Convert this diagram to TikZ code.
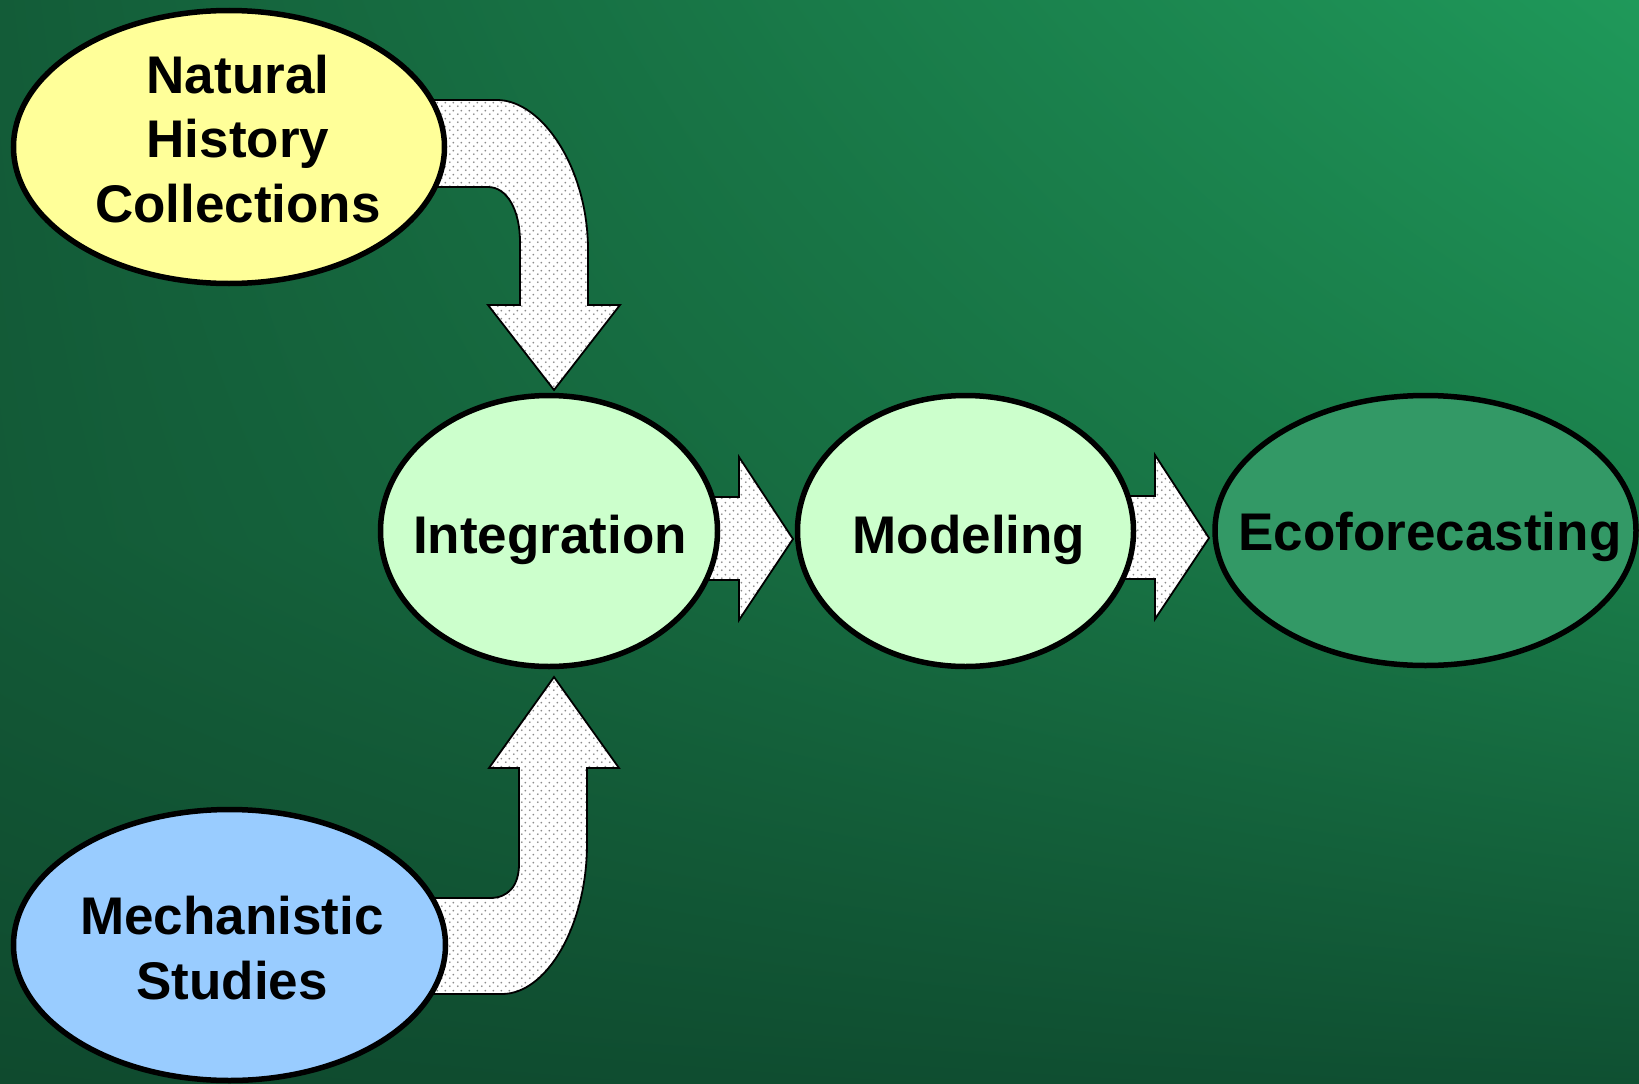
\documentclass[tikz,border=0pt]{standalone}
\usepackage{fontspec}
\setmainfont{Liberation Sans}
\usetikzlibrary{shapes.geometric,patterns,calc,shadings}
\pgfdeclarepatternformonly{mydots}{\pgfqpoint{0pt}{0pt}}{\pgfqpoint{8pt}{8pt}}{\pgfqpoint{8pt}{8pt}}{%
  \pgfpathcircle{\pgfqpoint{2pt}{2pt}}{1.1pt}%
  \pgfpathcircle{\pgfqpoint{6pt}{6pt}}{1.1pt}%
  \pgfusepath{fill}}
\definecolor{bgUL}{HTML}{135C38}
\definecolor{bgUR}{HTML}{1F995A}
\definecolor{bgML}{HTML}{135A37}
\definecolor{bgMR}{HTML}{1A7E4A}
\definecolor{bgLL}{HTML}{0F4A2E}
\definecolor{bgLR}{HTML}{0F5032}
\definecolor{nhyellow}{HTML}{FFFF99}
\definecolor{msblue}{HTML}{99CCFF}
\definecolor{palegreen}{HTML}{CCFFCC}
\definecolor{ecogreen}{HTML}{339966}
\tikzset{
  bubble/.style={ellipse, draw=black, line width=5.5pt, inner sep=0pt},
  lbl/.style={font=\fontsize{53}{64.5}\selectfont\bfseries, text=black, inner sep=0pt, align=center},
  blockarrow/.style={draw=black, line width=1.8pt, line join=miter, preaction={fill=white}, pattern=mydots, pattern color=gray!90}
}
\begin{document}
\begin{tikzpicture}[x=1pt,y=-1pt]
\useasboundingbox (0,0) rectangle (1639,1084);
% background
\shade[upper left=bgUL, upper right=bgUR, lower left=bgML, lower right=bgMR] (0,0) rectangle (1639,543);
\shade[upper left=bgML, upper right=bgMR, lower left=bgLL, lower right=bgLR] (0,541) rectangle (1639,1084);

% block arrows (drawn under the ellipses)
\draw[blockarrow] (430,100) -- (497,100) .. controls (542,100) and (588,168) .. (588,250)
  -- (588,305) -- (620,305) -- (554,390) -- (488,305) -- (520,305) -- (520,242)
  .. controls (520,210) and (507,187) .. (488,187) -- (430,187) -- cycle;
\draw[blockarrow] (430,994) -- (502,994) .. controls (547,994) and (587,925) .. (587,844)
  -- (587,768) -- (619,768) -- (554,677) -- (489,768) -- (519,768) -- (519,864)
  .. controls (519,886) and (508,898) .. (490,898) -- (430,898) -- cycle;
\draw[blockarrow] (700,497) -- (739,497) -- (739,457) -- (793,539) -- (739,620) -- (739,580) -- (700,580) -- cycle;
\draw[blockarrow] (1115,496) -- (1155,496) -- (1155,455) -- (1209,538) -- (1155,619) -- (1155,579) -- (1115,579) -- cycle;

% ellipses
\node[bubble, fill=nhyellow, minimum width=431pt, minimum height=273pt] (nh) at (229,147) {};
\node[bubble, fill=msblue, minimum width=432pt, minimum height=271pt] (ms) at (229.5,945) {};
\node[bubble, fill=palegreen, minimum width=337pt, minimum height=271pt] (int) at (549,531) {};
\node[bubble, fill=palegreen, minimum width=336pt, minimum height=271pt] (mod) at (965.5,531) {};
\node[bubble, fill=ecogreen, minimum width=421pt, minimum height=270pt] (eco) at (1425.5,530.5) {};

% labels
\node[lbl, anchor=base] (nhtext) at (238,222) {Natural\\History\\Collections};
\node[lbl, anchor=base] (mstext) at (232,999) {Mechanistic\\Studies};
\node[lbl, anchor=base] (inttext) at (550,553) {Integration};
\node[lbl, anchor=base] (modtext) at (969,553) {Modeling};
\node[lbl, anchor=base] (ecotext) at (1430,550) {Ecoforecasting};
\end{tikzpicture}
\end{document}
